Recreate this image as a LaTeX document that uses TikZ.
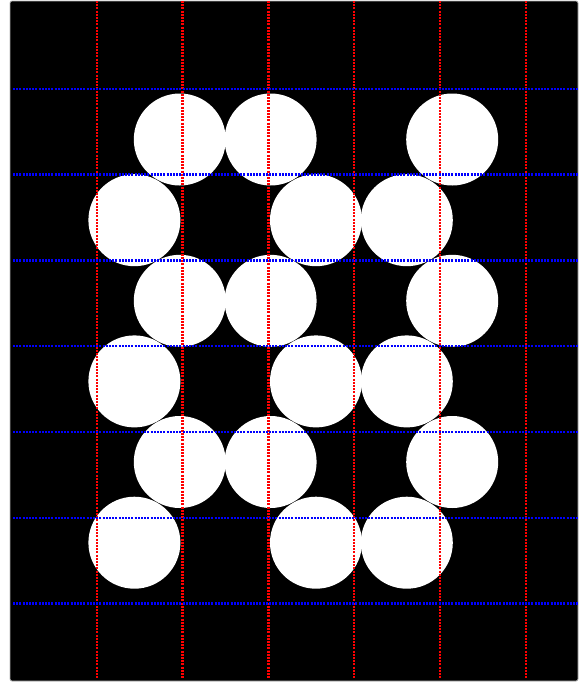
\documentclass[tikz,border=0pt]{standalone}
\begin{document}
\begin{tikzpicture}[x=1pt,y=-1pt,
  ball/.style={fill=white},
  vline/.style={red,line width=2.4pt,dash pattern=on 2pt off 1.2pt},
  hline/.style={blue,line width=2.4pt,dash pattern=on 2pt off 1.2pt}]
\useasboundingbox (0,0) rectangle (581,683);
\fill[black,draw=gray!60,line width=0.8pt,rounded corners=2pt] (10,1) rectangle (578,681);
% circles on a hexagonal lattice
\def\rad{46}
\foreach \y in {139.5,300.8,462.0}{
  \foreach \x in {179.8,270.6,452.2}{\fill[ball] (\x,\y) circle (\rad);}}
\foreach \y in {220.2,381.4,542.7}{
  \foreach \x in {134.4,316.0,406.8}{\fill[ball] (\x,\y) circle (\rad);}}
% grid lines
\foreach \x in {96.8,182.6,268.4,354.2,440.0,525.8}{\draw[vline] (\x,1) -- (\x,679);}
\foreach \y in {88.7,174.5,260.3,346.1,431.9,517.7,603.5}{\draw[hline] (13,\y) -- (578,\y);}
\end{tikzpicture}
\end{document}
